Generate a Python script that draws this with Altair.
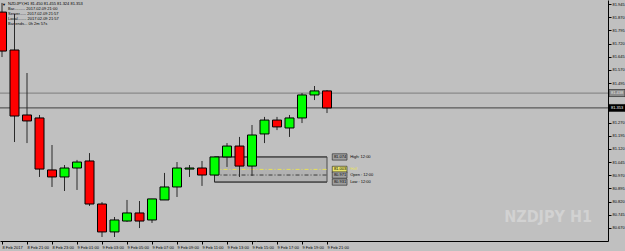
import altair as alt
import pandas as pd

# ---- data (NZDJPY H1) ----
bar_index = list(range(27))
opens  = [81.899, 81.683, 81.313, 81.296, 81.000, 80.960, 81.011, 81.051, 80.806, 80.647,
          80.709, 80.755, 80.715, 80.829, 80.903, 81.005, 81.011, 80.971, 81.074, 81.136,
          81.022, 81.205, 81.284, 81.239, 81.296, 81.427, 81.450]
highs  = [81.951, 81.888, 81.552, 81.313, 81.142, 81.028, 81.057, 81.096, 80.817, 80.732,
          80.829, 80.823, 80.835, 80.983, 81.045, 81.028, 81.051, 81.074, 81.153, 81.188,
          81.256, 81.302, 81.302, 81.313, 81.438, 81.478, 81.455]
lows   = [81.643, 81.159, 81.153, 80.960, 80.903, 80.880, 80.886, 80.795, 80.618, 80.618,
          80.704, 80.669, 80.698, 80.829, 80.846, 80.960, 80.909, 80.931, 81.017, 80.960,
          80.966, 81.153, 81.227, 81.188, 81.267, 81.398, 81.324]
closes = [81.677, 81.307, 81.279, 81.005, 80.960, 81.011, 81.045, 80.806, 80.647, 80.715,
          80.755, 80.709, 80.835, 80.903, 81.011, 81.011, 80.971, 81.074, 81.136, 81.022,
          81.199, 81.284, 81.245, 81.296, 81.427, 81.450, 81.353]

time_tick_pos = [0, 2, 4, 6, 8, 10, 12, 14, 16, 18, 20, 22, 24, 26]
time_tick_labels = ["8 Feb 2017", "8 Feb 21:00", "8 Feb 23:00", "9 Feb 01:00", "9 Feb 03:00",
                    "9 Feb 05:00", "9 Feb 07:00", "9 Feb 09:00", "9 Feb 11:00", "9 Feb 13:00",
                    "9 Feb 15:00", "9 Feb 17:00", "9 Feb 19:00", "9 Feb 21:00"]
# price-scale labels (81.420 and 81.345 are hidden behind the price boxes in the reference)
price_ticks = [80.595, 80.670, 80.745, 80.820, 80.895, 80.970, 81.045, 81.120, 81.195, 81.270,
               81.495, 81.570, 81.645, 81.720, 81.795, 81.870, 81.945]

level_prices = [81.438, 81.353]
level_line_colors = ["#8a8a8a", "#5a5a5a"]
level_box_colors = ["#8c8c8c", "#000000"]
level_text_colors = ["#e6e6e6", "#ffffff"]

zone_start, zone_end = 17, 26
zone_prices = [81.074, 81.003, 80.971, 80.931]
zone_names = ["High: 12:00", "Half", "Open : 12:00", "Low : 12:00"]

info_lines = ["NZDJPY,H1  81.450 81.455 81.324 81.353",
              "Bar.......... 2017.02.09 21:00",
              "Server...... 2017.02.09 21:57",
              "Local........ 2017.02.09 21:57",
              "Bar ends... 0h 2m 57s"]

# ---- frames ----
candles = pd.DataFrame({"i": bar_index, "open": opens, "high": highs, "low": lows, "close": closes})
levels = pd.DataFrame({"p": level_prices, "lc": level_line_colors, "bc": level_box_colors,
                       "tc": level_text_colors, "t": [f"{v:.3f}" for v in level_prices]})
zone = pd.DataFrame({"x1": [zone_start], "x2": [zone_end], "hi": [zone_prices[0]], "lo": [zone_prices[3]]})
zlines = pd.DataFrame({"x1": [zone_start] * 4, "x2": [zone_end] * 4, "p": zone_prices,
                       "name": zone_names, "t": [f"{v:.3f}" for v in zone_prices],
                       "kind": ["solid", "half", "open", "solid"]})

FONT = "Liberation Sans"
xscale = alt.Scale(domain=[-0.16, 48.48], nice=False, zero=False, padding=0)
yscale = alt.Scale(domain=[80.5953, 81.9678], nice=False, zero=False, padding=0)

label_expr = "[" + ",".join("'" + s + "'" for s in time_tick_labels) + "][floor(datum.value/2)]"

x_axis = alt.Axis(values=time_tick_pos, labelExpr=label_expr, labelAlign="left", labelFontSize=4.0,
                  labelFont=FONT, labelColor="#000000", labelPadding=1, tickSize=3, tickColor="#000000",
                  domainColor="#000000", grid=False, title=None, labelOverlap=False, labelFlush=False)
y_axis = alt.Axis(orient="right", values=price_ticks, format=".3f", labelFontSize=4.0, labelFont=FONT,
                  labelColor="#000000", labelPadding=1, tickSize=3, tickColor="#000000",
                  domainColor="#000000", grid=False, title=None, labelOverlap=False, labelFlush=False)


def X(field):
    return alt.X(field, scale=xscale, axis=x_axis)


def Y(field):
    return alt.Y(field, scale=yscale, axis=y_axis)


zone_rect = alt.Chart(zone).mark_rect(fill="#b2b2b2", stroke="#4a4a4a", strokeWidth=1).encode(
    x=X("x1:Q"), x2="x2:Q", y=Y("hi:Q"), y2="lo:Q")

level_rules = alt.Chart(levels).mark_rule(strokeWidth=1.2).encode(
    y=Y("p:Q"), color=alt.Color("lc:N", scale=None))

zone_solid = alt.Chart(zlines).transform_filter("datum.kind == 'solid'").mark_rule(
    color="#3a3a3a", strokeWidth=1).encode(x=X("x1:Q"), x2="x2:Q", y=Y("p:Q"))
zone_half = alt.Chart(zlines).transform_filter("datum.kind == 'half'").mark_rule(
    color="#e6e05a", strokeWidth=1, strokeDash=[4, 2, 1, 2]).encode(x=X("x1:Q"), x2="x2:Q", y=Y("p:Q"))
zone_open = alt.Chart(zlines).transform_filter("datum.kind == 'open'").mark_rule(
    color="#3a3a3a", strokeWidth=1, strokeDash=[4, 2, 1, 2]).encode(x=X("x1:Q"), x2="x2:Q", y=Y("p:Q"))

wicks = alt.Chart(candles).mark_rule(color="#2a2a2a", strokeWidth=1).encode(
    x=X("i:Q"), y=Y("low:Q"), y2="high:Q")
bodies = alt.Chart(candles).mark_bar(size=9, stroke="#000000", strokeWidth=1).encode(
    x=X("i:Q"), y=Y("open:Q"), y2="close:Q",
    fill=alt.condition("datum.close >= datum.open", alt.value("#00ff00"), alt.value("#ff0000")))

# price boxes at the right axis
lv_boxes = alt.Chart(levels).transform_calculate(a="datum.p + 0.02", b="datum.p - 0.02").mark_rect(
    stroke="#000000", strokeWidth=0.5).encode(
    x=alt.value(609), x2=alt.value(625), y=Y("a:Q"), y2="b:Q", fill=alt.Color("bc:N", scale=None))
lv_text = alt.Chart(levels).mark_text(align="left", baseline="middle", fontSize=4.0, font=FONT).encode(
    x=alt.value(611), y=Y("p:Q"), text="t:N", color=alt.Color("tc:N", scale=None))

# zone labels
zb = alt.Chart(zlines).transform_calculate(a="datum.p + 0.018", b="datum.p - 0.018",
                                           bx1="26.42", bx2="27.6").mark_rect(
    stroke="#202020", strokeWidth=0.6).encode(
    x=X("bx1:Q"), x2="bx2:Q", y=Y("a:Q"), y2="b:Q",
    fill=alt.condition("datum.kind == 'half'", alt.value("#e8e46a"), alt.value("#a0a0a0")))
zt = alt.Chart(zlines).transform_calculate(tx="26.55").mark_text(
    align="left", baseline="middle", fontSize=4.0, font=FONT, color="#000000").encode(
    x=X("tx:Q"), y=Y("p:Q"), text="t:N")
zn = alt.Chart(zlines).transform_calculate(tx="27.85").mark_text(
    align="left", baseline="middle", fontSize=4.0, font=FONT).encode(
    x=X("tx:Q"), y=Y("p:Q"), text="name:N",
    color=alt.condition("datum.kind == 'half'", alt.value("#e8e05a"), alt.value("#000000")))

info = alt.Chart(pd.DataFrame({"t": ["\n".join(info_lines)]})).mark_text(
    align="left", baseline="top", fontSize=4.0, font=FONT, color="#000000",
    lineBreak="\n", lineHeight=5.0).encode(x=alt.value(8), y=alt.value(2), text="t:N")
info_icon = alt.Chart(pd.DataFrame({"t": ["▼"]})).mark_text(
    align="left", baseline="top", fontSize=4, color="#000000").encode(
    x=alt.value(2), y=alt.value(2.5), text="t:N")

watermark = alt.Chart(pd.DataFrame({"t": ["NZDJPY H1"]})).mark_text(
    align="right", baseline="alphabetic", fontSize=16,
    font="'DejaVu Sans Condensed', 'Liberation Sans', sans-serif", fontWeight="bold",
    color="#d2d2d2").encode(x=alt.value(592), y=alt.value(222), text="t:N")

chart = alt.layer(
    zone_rect, level_rules, zone_solid, zone_half, zone_open, wicks, bodies,
    watermark, lv_boxes, lv_text, zb, zt, zn, info_icon, info
).properties(
    width=608, height=241, autosize="none",
    padding={"left": 0, "top": 0, "right": 17, "bottom": 10},
    background="#c0c0c0"
).configure_view(stroke=None)

chart.save("out.html", embed_options={"renderer": "svg", "actions": False})
